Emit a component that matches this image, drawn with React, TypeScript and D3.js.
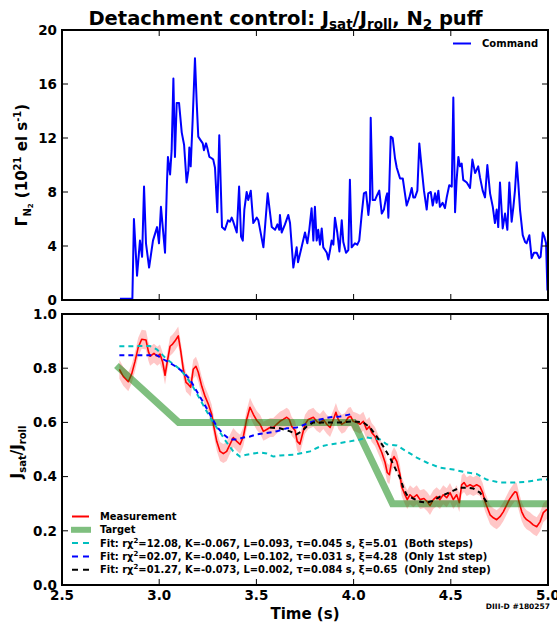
import React from "react";
import * as d3 from "d3";

// N2 puff command (top panel)
const cmdTime = [
  2.798, 2.862, 2.87, 2.886, 2.901, 2.912, 2.922, 2.932, 2.948, 2.968, 2.989, 2.999, 3.009, 3.03, 3.04, 3.045,
  3.056, 3.064, 3.073, 3.081, 3.09, 3.102, 3.116, 3.128, 3.141, 3.15, 3.155, 3.162, 3.172, 3.184, 3.193, 3.201,
  3.21, 3.224, 3.23, 3.241, 3.247, 3.258, 3.27, 3.278, 3.287, 3.299, 3.309, 3.323, 3.338, 3.354, 3.364, 3.373,
  3.381, 3.399, 3.411, 3.421, 3.43, 3.438, 3.45, 3.458, 3.471, 3.484, 3.502, 3.51, 3.536, 3.558, 3.579, 3.596,
  3.608, 3.618, 3.621, 3.63, 3.647, 3.664, 3.673, 3.69, 3.707, 3.714, 3.729, 3.75, 3.762, 3.772, 3.784, 3.793,
  3.801, 3.81, 3.818, 3.827, 3.836, 3.844, 3.853, 3.862, 3.87, 3.879, 3.887, 3.896, 3.904, 3.916, 3.927, 3.939,
  3.947, 3.961, 3.973, 3.981, 3.99, 4.007, 4.019, 4.029, 4.042, 4.053, 4.064, 4.076, 4.084, 4.088, 4.098, 4.11,
  4.122, 4.132, 4.145, 4.156, 4.167, 4.173, 4.179, 4.191, 4.201, 4.213, 4.222, 4.239, 4.253, 4.264, 4.273, 4.287,
  4.299, 4.307, 4.316, 4.328, 4.338, 4.35, 4.362, 4.376, 4.384, 4.397, 4.407, 4.419, 4.427, 4.436, 4.444, 4.458,
  4.47, 4.479, 4.492, 4.505, 4.513, 4.522, 4.53, 4.539, 4.547, 4.556, 4.564, 4.582, 4.599, 4.611, 4.625, 4.641,
  4.65, 4.664, 4.676, 4.688, 4.702, 4.716, 4.727, 4.736, 4.744, 4.753, 4.767, 4.779, 4.791, 4.801, 4.813, 4.822,
  4.83, 4.839, 4.847, 4.856, 4.87, 4.882, 4.89, 4.904, 4.916, 4.928, 4.942, 4.955, 4.962, 4.973, 4.981, 4.99, 4.997,
];
const cmdValue = [
  0.1, 0.1, 6.0, 1.8, 4.4, 3.2, 8.4, 4.2, 2.4, 4.4, 5.4, 4.2, 6.9, 3.5, 8.7, 10.6,
  9.3, 11.1, 16.4, 10.6, 14.6, 14.6, 12.4, 11.5, 8.7, 9.6, 11.3, 9.9, 13.3, 17.9, 14.6, 12.1,
  11.9, 11.6, 11.1, 11.6, 11.3, 10.6, 10.5, 10.4, 9.8, 6.5, 12.2, 5.4, 5.2, 5.9, 5.8, 6.1,
  5.8, 5.0, 8.4, 4.7, 4.4, 6.7, 8.0, 7.4, 8.1, 5.7, 6.1, 5.9, 3.9, 7.9, 5.4, 5.2,
  5.6, 5.2, 6.3, 5.0, 5.6, 6.3, 5.7, 2.4, 3.9, 2.8, 3.7, 5.0, 4.2, 5.2, 6.8, 4.4,
  6.9, 4.4, 5.2, 4.1, 5.3, 3.9, 3.7, 3.5, 3.0, 3.7, 4.4, 4.1, 6.1, 5.0, 3.6, 5.9,
  4.3, 3.5, 3.7, 8.9, 3.9, 4.2, 4.1, 4.4, 6.4, 7.9, 8.0, 6.3, 7.4, 13.5, 7.4, 7.4,
  7.8, 8.1, 6.4, 6.7, 7.6, 7.9, 6.1, 12.1, 12.0, 10.5, 9.8, 9.0, 9.0, 7.9, 7.0, 7.6,
  8.3, 7.6, 7.6, 8.1, 11.6, 9.8, 8.1, 6.7, 7.9, 8.0, 7.0, 7.9, 7.2, 8.1, 6.9, 7.2,
  6.8, 7.6, 8.5, 8.4, 15.0, 6.5, 8.9, 10.6, 9.9, 10.1, 8.9, 8.7, 8.3, 10.4, 9.4, 9.9,
  9.1, 8.1, 7.6, 10.0, 7.9, 6.9, 5.7, 6.7, 5.4, 8.7, 5.3, 6.4, 5.2, 8.7, 5.8, 6.9,
  8.1, 10.2, 8.7, 6.7, 4.8, 4.3, 4.2, 4.8, 3.1, 3.5, 3.5, 3.1, 3.2, 5.0, 4.7, 4.2, 0.7,
];

// Jsat/Jroll measurement (bottom panel)
const measTime = [
  2.795, 2.815, 2.841, 2.859, 2.876, 2.892, 2.91, 2.932, 2.944, 2.953, 2.973, 2.99, 3.004, 3.018, 3.03, 3.042,
  3.056, 3.069, 3.081, 3.098, 3.111, 3.124, 3.138, 3.15, 3.162, 3.175, 3.189, 3.201, 3.219, 3.236, 3.253, 3.27,
  3.282, 3.296, 3.313, 3.33, 3.347, 3.364, 3.381, 3.399, 3.416, 3.433, 3.45, 3.467, 3.484, 3.502, 3.519, 3.536,
  3.553, 3.57, 3.587, 3.604, 3.621, 3.638, 3.656, 3.669, 3.682, 3.699, 3.71, 3.724, 3.75, 3.767, 3.793, 3.81,
  3.827, 3.844, 3.862, 3.879, 3.896, 3.909, 3.921, 3.939, 3.956, 3.973, 3.985, 3.998, 4.016, 4.033, 4.05, 4.067,
  4.081, 4.093, 4.11, 4.127, 4.145, 4.162, 4.173, 4.184, 4.196, 4.208, 4.222, 4.239, 4.247, 4.264, 4.276, 4.29,
  4.307, 4.325, 4.342, 4.362, 4.379, 4.393, 4.41, 4.427, 4.444, 4.461, 4.479, 4.496, 4.513, 4.53, 4.544, 4.556,
  4.568, 4.582, 4.599, 4.616, 4.633, 4.65, 4.664, 4.676, 4.688, 4.702, 4.719, 4.736, 4.753, 4.77, 4.788, 4.801,
  4.818, 4.83, 4.839, 4.852, 4.865, 4.877, 4.89, 4.907, 4.924, 4.942, 4.959, 4.976, 4.993, 5.0,
];
const measValue = [
  0.796, 0.77, 0.75, 0.78, 0.826, 0.877, 0.907, 0.904, 0.863, 0.844, 0.855, 0.844, 0.852, 0.822, 0.774, 0.826,
  0.881, 0.889, 0.9, 0.919, 0.863, 0.796, 0.748, 0.74, 0.73, 0.796, 0.807, 0.785, 0.733, 0.696, 0.667, 0.63,
  0.581, 0.53, 0.493, 0.485, 0.493, 0.519, 0.544, 0.53, 0.519, 0.548, 0.611, 0.656, 0.63, 0.607, 0.593, 0.567,
  0.574, 0.581, 0.581, 0.593, 0.604, 0.611, 0.619, 0.611, 0.585, 0.57, 0.53, 0.52, 0.593, 0.611, 0.619, 0.604,
  0.596, 0.611, 0.593, 0.581, 0.611, 0.637, 0.611, 0.593, 0.6, 0.619, 0.622, 0.604, 0.6, 0.593, 0.604, 0.574,
  0.585, 0.563, 0.548, 0.519, 0.489, 0.452, 0.415, 0.407, 0.456, 0.474, 0.456, 0.407, 0.363, 0.333, 0.315, 0.333,
  0.322, 0.333, 0.315, 0.319, 0.307, 0.293, 0.315, 0.326, 0.315, 0.333, 0.322, 0.341, 0.315, 0.333, 0.304, 0.37,
  0.378, 0.363, 0.37, 0.363, 0.37, 0.363, 0.341, 0.307, 0.285, 0.259, 0.248, 0.241, 0.252, 0.27, 0.296, 0.315,
  0.333, 0.344, 0.341, 0.304, 0.27, 0.252, 0.241, 0.233, 0.222, 0.215, 0.233, 0.267, 0.278, 0.28,
];
const measErr = 0.035;

// target
const targetTime = [2.78, 3.1, 4.0, 4.2, 5.0];
const targetValue = [0.81, 0.6, 0.6, 0.3, 0.3];

// fit, both steps (cyan)
const fitBothTime = [
  2.795, 2.953, 2.987, 3.013, 3.039, 3.073, 3.107, 3.141, 3.175, 3.21, 3.244, 3.278, 3.313, 3.347, 3.381, 3.416,
  3.45, 3.484, 3.519, 3.553, 3.587, 3.621, 3.69, 3.75, 3.776, 3.827, 3.879, 3.93, 3.981, 4.033, 4.067, 4.101,
  4.136, 4.17, 4.222, 4.273, 4.325, 4.376, 4.444, 4.513, 4.582, 4.633, 4.684, 4.753, 4.822, 4.89, 4.959, 5.0,
];
const fitBothValue = [
  0.881, 0.882, 0.87, 0.852, 0.833, 0.815, 0.796, 0.767, 0.73, 0.685, 0.641, 0.6, 0.563, 0.526, 0.493, 0.474,
  0.481, 0.485, 0.489, 0.485, 0.474, 0.478, 0.481, 0.489, 0.493, 0.511, 0.519, 0.524, 0.53, 0.537, 0.544, 0.541,
  0.537, 0.519, 0.515, 0.493, 0.47, 0.452, 0.433, 0.426, 0.415, 0.41, 0.389, 0.378, 0.378, 0.381, 0.389, 0.389,
];

// fit, only 1st step (blue)
const fit1Time = [
  2.795, 2.987, 3.021, 3.056, 3.09, 3.124, 3.158, 3.193, 3.227, 3.261, 3.296, 3.33, 3.364, 3.399, 3.433, 3.467,
  3.502, 3.553, 3.604, 3.656, 3.707, 3.724, 3.776, 3.827, 3.879, 3.93, 3.985,
];
const fit1Value = [
  0.848, 0.848, 0.833, 0.819, 0.804, 0.785, 0.759, 0.715, 0.674, 0.63, 0.585, 0.556, 0.537, 0.537, 0.544, 0.548,
  0.556, 0.561, 0.567, 0.578, 0.581, 0.585, 0.6, 0.611, 0.619, 0.622, 0.63,
];

// fit, only 2nd step (black)
const fit2Time = [
  3.57, 3.621, 3.673, 3.707, 3.733, 3.759, 3.793, 3.862, 3.93, 3.998, 4.05, 4.084, 4.119, 4.153, 4.187, 4.222,
  4.239, 4.256, 4.273, 4.307, 4.342, 4.376, 4.41, 4.444, 4.479, 4.513, 4.547, 4.582, 4.616, 4.65, 4.676, 4.69,
];
const fit2Value = [
  0.581, 0.578, 0.567, 0.556, 0.567, 0.585, 0.6, 0.6, 0.6, 0.604, 0.6, 0.581, 0.548, 0.511, 0.47, 0.419,
  0.396, 0.359, 0.333, 0.319, 0.307, 0.304, 0.311, 0.326, 0.337, 0.348, 0.359, 0.359, 0.356, 0.341, 0.315, 0.3,
];

const xTicks = [2.5, 3.0, 3.5, 4.0, 4.5, 5.0];
const yTopTicks = [0, 4, 8, 12, 16, 20];
const yBotTicks = [0, 0.2, 0.4, 0.6, 0.8, 1.0];

const fitLabels = [
  ["12.08", "-0.067", "0.093", "0.045", "5.01", "Both steps"],
  ["02.07", "-0.040", "0.102", "0.031", "4.28", "Only 1st step"],
  ["01.27", "-0.073", "0.002", "0.084", "0.65", "Only 2nd step"],
];

const FONT = "DejaVu Sans";

function pairs(t: number[], v: number[]) {
  return t.map((d, i) => [d, v[i]] as [number, number]);
}

function Frame({ x, y, top, bottom, yTicks, fmt }: any) {
  const left = x.range()[0];
  const right = x.range()[1];
  const tl = 6;
  return (
    <g>
      {xTicks.slice(1, -1).map((t) => (
        <g key={"xt" + t}>
          <line x1={x(t)} x2={x(t)} y1={bottom} y2={bottom - tl} stroke="#000" strokeWidth={1} />
          <line x1={x(t)} x2={x(t)} y1={top} y2={top + tl} stroke="#000" strokeWidth={1} />
        </g>
      ))}
      {yTicks.map((t: number) => (
        <g key={"yt" + t}>
          <line x1={left} x2={left + tl} y1={y(t)} y2={y(t)} stroke="#000" strokeWidth={1} />
          <line x1={right} x2={right - tl} y1={y(t)} y2={y(t)} stroke="#000" strokeWidth={1} />
          <text x={left - 5} y={y(t)} dy="0.36em" textAnchor="end" fontSize={13.5} fontWeight="bold" fontFamily={FONT}>
            {fmt(t)}
          </text>
        </g>
      ))}
      <rect x={left} y={top} width={right - left} height={bottom - top} fill="none" stroke="#000" strokeWidth={2} />
    </g>
  );
}

export default function App() {
  const width = 557;
  const height = 622;
  const x = d3.scaleLinear().domain([2.5, 5.0]).range([62, 548]);
  const yTop = d3.scaleLinear().domain([0, 20]).range([300, 30]);
  const yBot = d3.scaleLinear().domain([0, 1]).range([585, 314]);

  const lineTop = d3.line<[number, number]>().x((d) => x(d[0])).y((d) => yTop(d[1]));
  const lineBot = d3.line<[number, number]>().x((d) => x(d[0])).y((d) => yBot(d[1]));
  const band = d3
    .area<[number, number]>()
    .x((d) => x(d[0]))
    .y0((d) => yBot(d[1] - measErr))
    .y1((d) => yBot(d[1] + measErr));

  const meas = pairs(measTime, measValue);
  const legendX = 72;
  const legendY = (i: number) => 516.5 + i * 13.3;

  return (
    <svg width={width} height={height} style={{ position: "absolute", left: 0, top: 0 }} fontFamily={FONT}>
      <rect width={width} height={height} fill="#fff" />

      {/* title */}
      <text x={285.5} y={25} textAnchor="middle" fontSize={19.5} fontWeight="bold">
        Detachment control: J<tspan fontSize={13.5} dy={4}>sat</tspan>
        <tspan dy={-4}>/J</tspan>
        <tspan fontSize={13.5} dy={4}>roll</tspan>
        <tspan dy={-4}>, N</tspan>
        <tspan fontSize={13.5} dy={4}>2</tspan>
        <tspan dy={-4}> puff</tspan>
      </text>

      {/* top panel */}
      <defs>
        <clipPath id="clipTop">
          <rect x={62} y={30} width={486} height={270} />
        </clipPath>
        <clipPath id="clipBot">
          <rect x={62} y={314} width={486} height={271} />
        </clipPath>
      </defs>
      <g clipPath="url(#clipTop)">
        <path d={lineTop(pairs(cmdTime, cmdValue)) || ""} fill="none" stroke="#0000ff" strokeWidth={2} strokeLinejoin="round" />
      </g>
      <Frame x={x} y={yTop} top={30} bottom={300} yTicks={yTopTicks} fmt={(d: number) => String(d)} />
      <line x1={453} x2={471} y1={43.5} y2={43.5} stroke="#0000ff" strokeWidth={2} />
      <text x={482} y={47} fontSize={10} fontWeight="bold">Command</text>

      <text transform="translate(27,165) rotate(-90)" textAnchor="middle" fontSize={15} fontWeight="bold">
        Γ<tspan fontSize={10} dy={4}>N</tspan>
        <tspan fontSize={7} dy={2}>2</tspan>
        <tspan fontSize={15} dy={-6}> (10</tspan>
        <tspan fontSize={10} dy={-6}>21</tspan>
        <tspan fontSize={15} dy={6}> el s</tspan>
        <tspan fontSize={10} dy={-6}>-1</tspan>
        <tspan fontSize={15} dy={6}>)</tspan>
      </text>

      {/* bottom panel */}
      <g clipPath="url(#clipBot)">
        <path d={band(meas) || ""} fill="#ff0000" fillOpacity={0.22} stroke="none" />
        <path d={lineBot(meas) || ""} fill="none" stroke="#ff0000" strokeWidth={1.6} strokeLinejoin="round" />
        <path d={lineBot(pairs(targetTime, targetValue)) || ""} fill="none" stroke="#008000" strokeOpacity={0.5} strokeWidth={7} />
        <path d={lineBot(pairs(fitBothTime, fitBothValue)) || ""} fill="none" stroke="#00bfbf" strokeWidth={2} strokeDasharray="5,4" />
        <path d={lineBot(pairs(fit1Time, fit1Value)) || ""} fill="none" stroke="#0000ff" strokeWidth={2} strokeDasharray="5,4" />
        <path d={lineBot(pairs(fit2Time, fit2Value)) || ""} fill="none" stroke="#000000" strokeWidth={2} strokeDasharray="5,4" />
      </g>
      <Frame x={x} y={yBot} top={314} bottom={585} yTicks={yBotTicks} fmt={d3.format(".1f")} />

      {xTicks.map((t) => (
        <text key={"xl" + t} x={x(t)} y={600} textAnchor="middle" fontSize={13.5} fontWeight="bold">
          {t.toFixed(1)}
        </text>
      ))}
      <text x={305} y={619} textAnchor="middle" fontSize={15} fontWeight="bold">Time (s)</text>
      <text x={550} y={609} textAnchor="end" fontSize={7.5} fontWeight="bold">DIII-D #180257</text>

      <text transform="translate(22,452) rotate(-90)" textAnchor="middle" fontSize={15} fontWeight="bold">
        J<tspan fontSize={10} dy={4}>sat</tspan>
        <tspan fontSize={15} dy={-4}>/J</tspan>
        <tspan fontSize={10} dy={4}>roll</tspan>
      </text>

      {/* legend */}
      <g fontSize={9.9} fontWeight="bold">
        <line x1={legendX} x2={legendX + 17} y1={legendY(0)} y2={legendY(0)} stroke="#ff0000" strokeWidth={2} />
        <text x={100} y={legendY(0)} dy="0.36em">Measurement</text>
        <line x1={legendX - 1} x2={legendX + 19} y1={legendY(1)} y2={legendY(1)} stroke="#008000" strokeOpacity={0.5} strokeWidth={6} />
        <text x={100} y={legendY(1)} dy="0.36em">Target</text>
        {fitLabels.map((f, i) => (
          <g key={"fl" + i}>
            <line
              x1={legendX}
              x2={legendX + 17}
              y1={legendY(i + 2)}
              y2={legendY(i + 2)}
              stroke={["#00bfbf", "#0000ff", "#000000"][i]}
              strokeWidth={2}
              strokeDasharray="6,5"
            />
            <text x={100} y={legendY(i + 2)} dy="0.36em" style={{ whiteSpace: "pre" }}>
              Fit: rχ<tspan fontSize={7} dy={-4}>2</tspan>
              <tspan dy={4}>{`=${f[0]}, K=${f[1]}, L=${f[2]}, τ=${f[3]} s, ξ=${f[4]}  (${f[5]})`}</tspan>
            </text>
          </g>
        ))}
      </g>
    </svg>
  );
}
